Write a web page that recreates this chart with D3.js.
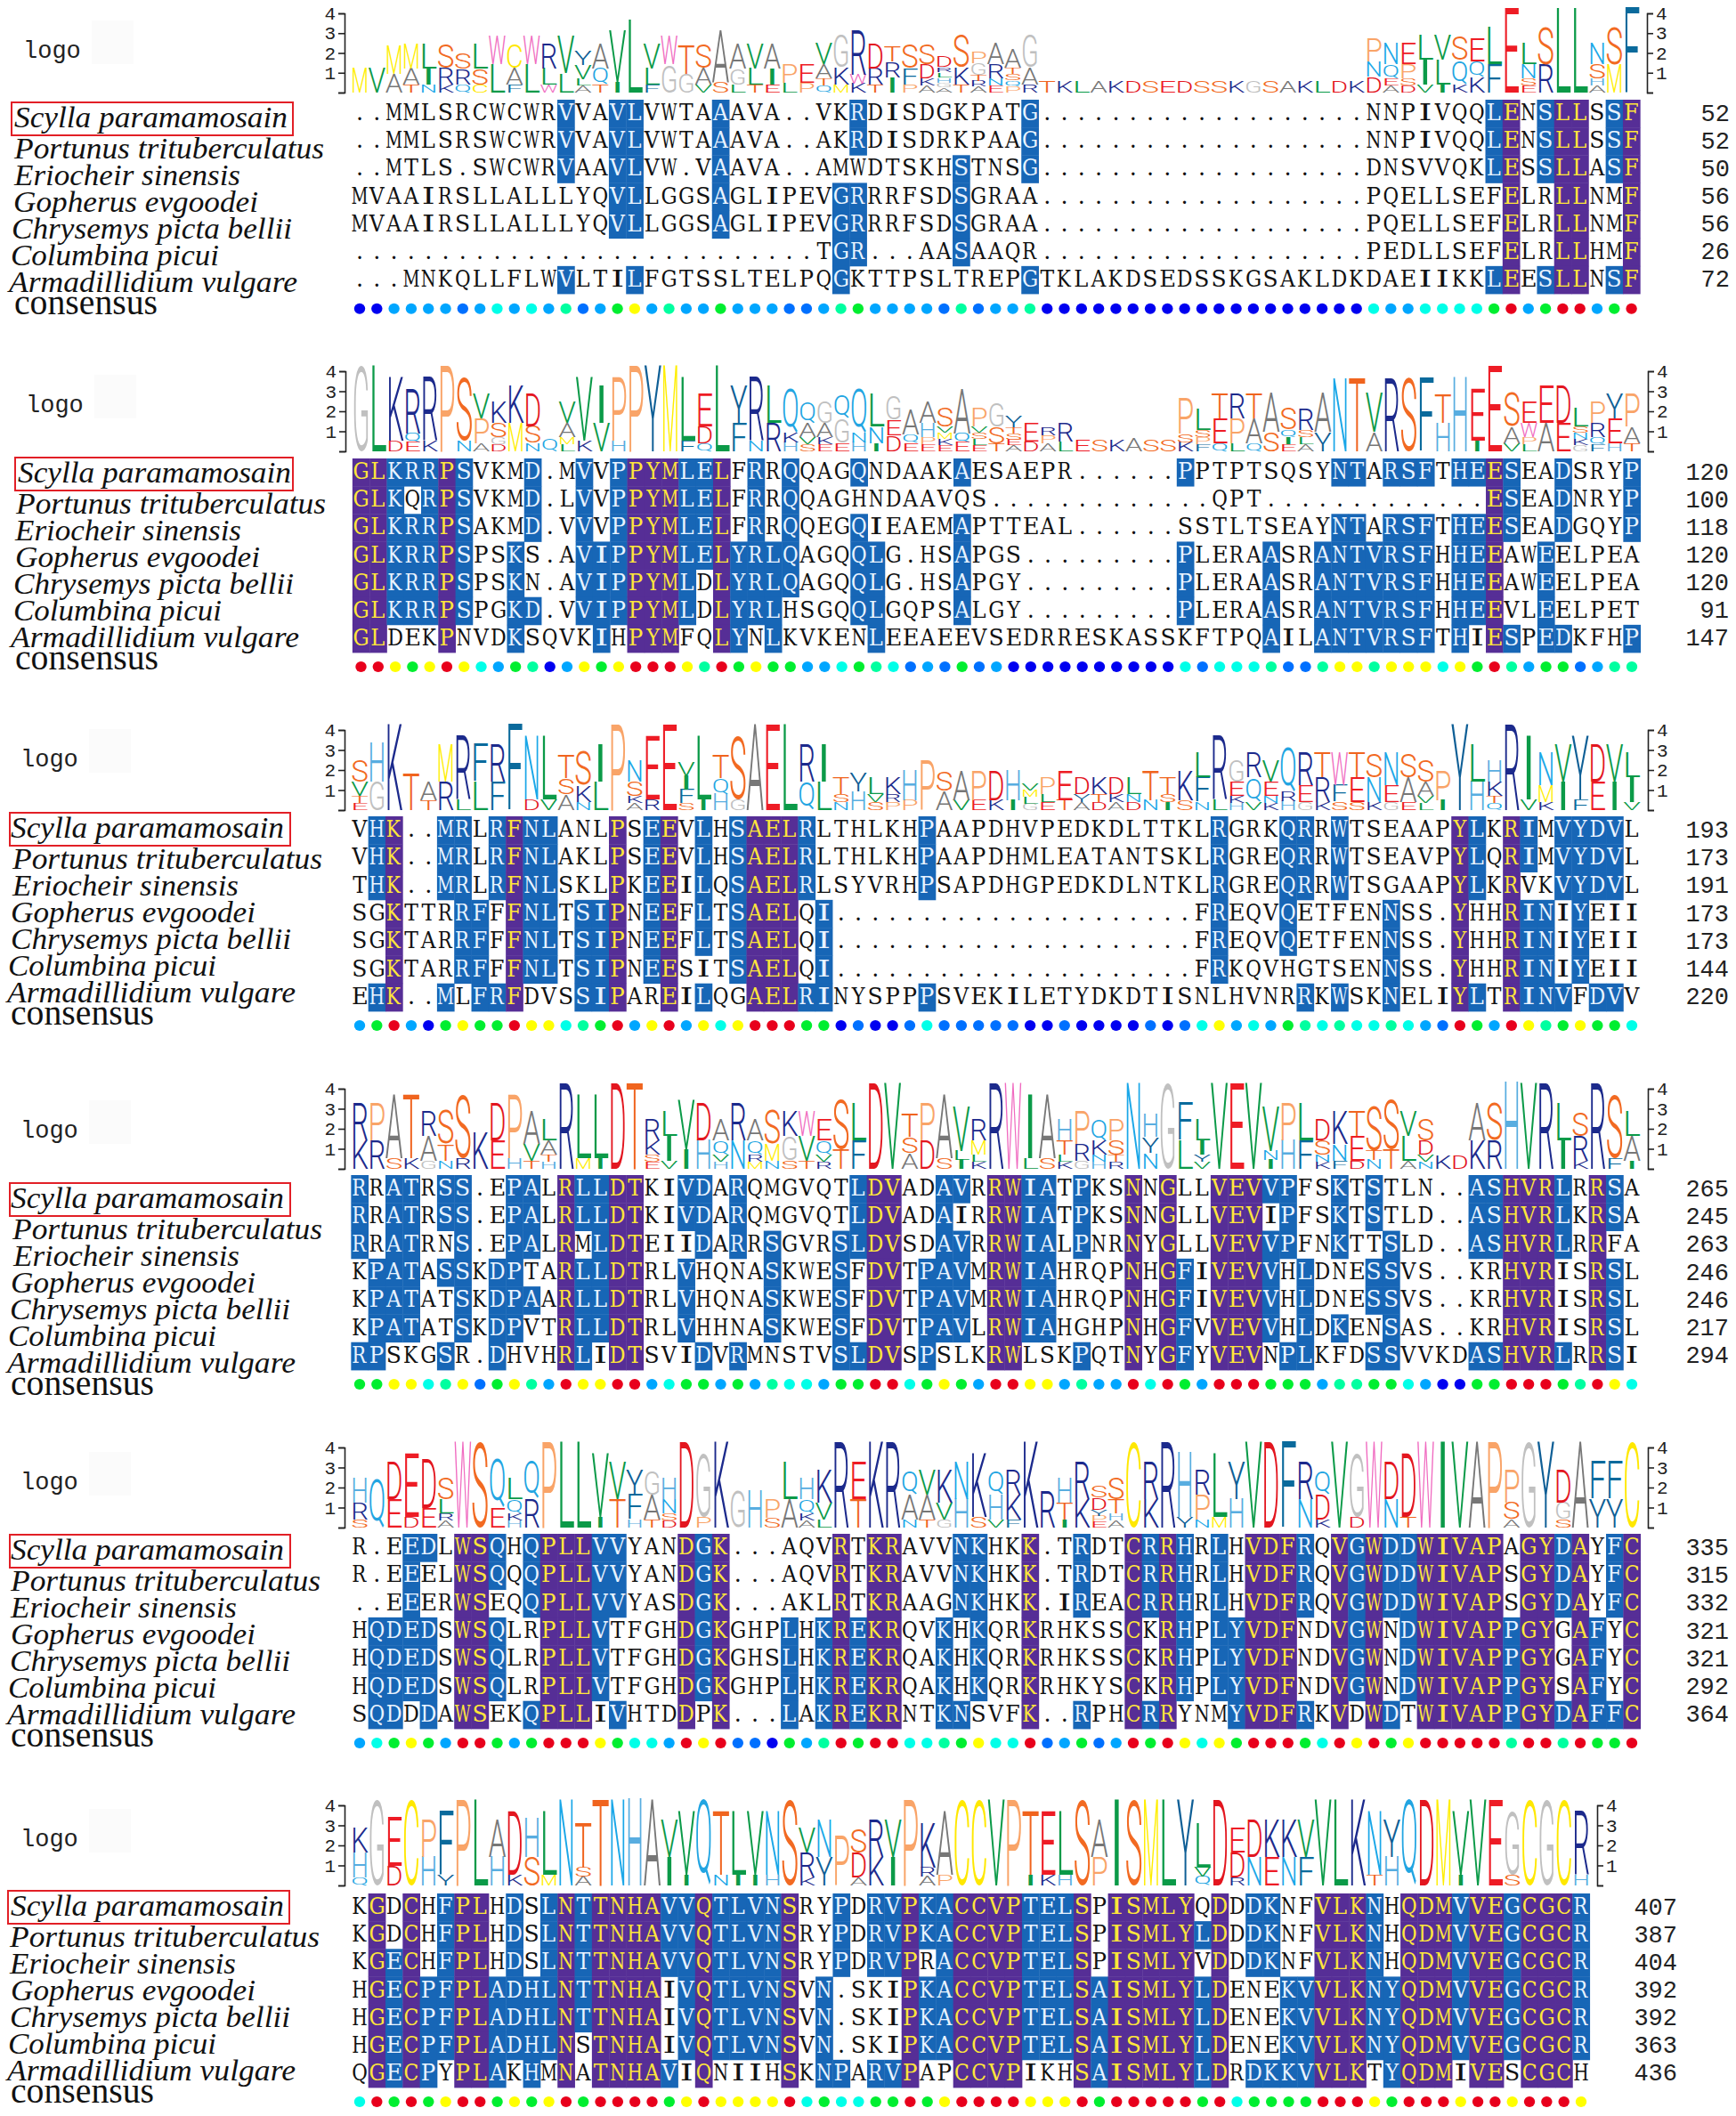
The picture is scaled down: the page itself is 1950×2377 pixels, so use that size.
<!DOCTYPE html>
<html><head><meta charset="utf-8">
<script src="https://cdn.jsdelivr.net/npm/d3@7"></script>
<style>html,body{margin:0;padding:0;background:#fff}svg{display:block}</style>
</head><body><svg id="c" width="1950" height="2377"></svg>
<script>
const dots = n => ".".repeat(n);
const species = ["Scylla paramamosain","Portunus trituberculatus","Eriocheir sinensis","Gopherus evgoodei","Chrysemys picta bellii","Columbina picui","Armadillidium vulgare"];

const block1Seqs = [
  "..MMLSRCWCWRVVAVLVWTAAAVA..VKRDISDGKPATG"+dots(19)+"NNPIVQQLENSLLSSF",
  "..MMLSRSWCWRVVAVLVWTAAAVA..AKRDISDRKPAAG"+dots(19)+"NNPIVQQLENSLLSSF",
  "..MTLS.SWCWRVAAVLVW.VAAVA..AMWDTSKHSTNSG"+dots(19)+"DNSVVQKLESSLLASF",
  "MVAAIRSLLALLLYQVLLGGSAGLIPEVGRRRFSDSGRAA"+dots(19)+"PQELLSEFELRLLNMF",
  "MVAAIRSLLALLLYQVLLGGSAGLIPEVGRRRFSDSGRAA"+dots(19)+"PQELLSEFELRLLNMF",
  dots(27)+"TGR...AASAAQR"+dots(19)+"PEDLLSEFELRLLHMF",
  "...MNKQLLFLWVLTILFGTSSLTELPQGKTTPSLTREPGTKLAKDSEDSSKGSAKLDKDAEIIKKLEESLLNSF"];
const block2Seqs = [
  "GLKRRPSVKMD.MVVPPYMLELFRRQQAGQNDAAKAESAEPR"+dots(6)+"PPTPTSQSYNTARSFTHEESEADSRYP",
  "GLKQRPSVKMD.LVVPPYMLELFRRQQAGHNDAAVQS"+dots(13)+"QPT"+dots(13)+"ESEADNRYP",
  "GLKRRPSAKMD.VVVPPYMLELFRRQQEGQIEAEMAPTTEAL"+dots(6)+"SSTLTSEAYNTARSFTHEESEADGQYP",
  "GLKRRPSPSKS.AVIPPYMLELYRLQAGQQLG.HSAPGS"+dots(9)+"PLERAASRANTVRSFHHEEAWEELPEA",
  "GLKRRPSPSKN.AVIPPYMLDLYRLQAGQQLG.HSAPGY"+dots(9)+"PLERAASRANTVRSFHHEEAWEELPEA",
  "GLKRRPSPGKD.VVIPPYMLDLYRLHSGQQLGQPSALGY"+dots(9)+"PLERAASRANTVRSFHHEEVLEELPET",
  "GLDEKPNVDKSQVKIHPYMFQLYNLKVKENLEEAEEVSEDRRESKASSKFTPQAILANTVRSFTHIESPEDKFHP"];
const block3Seqs = [
  "VHK..MRLRFNLANLPSEEVLHSAELRLTHLKHPAAPDHVPEDKDLTTKLRGRKQRRWTSEAAPYLKRIMVYDVL",
  "VHK..MRLRFNLAKLPSEEVLHSAELRLTHLKHPAAPDHMLEATANTSKLRGREQRRWTSEAVPYLQRIMVYDVL",
  "THK..MRLRFNLSKLPKEEILQSAELRLSYVRHPSAPDHGPEDKDLNTKLRGREQRRWTSGAAPYLKRVKVYDVL",
  "SGKTTRRFFFNLTSIPNEEFLTSAELQI"+dots(21)+"FREQVQETFENNSS.YHHRINIYEII",
  "SGKTARRFFFNLTSIPNEEFLTSAELQI"+dots(21)+"FREQVQETFENNSS.YHHRINIYEII",
  "SGKTARRFFFNLTSIPNEESITSAELQI"+dots(21)+"FRKQVHGTSENNSS.YHHRINIYEII",
  "EHK..MLFRFDVSSIPAREILQGAELRINYSPPPSVEKILETYDKDTISNLHVNRRKWSKNELIYLTRINVFDVV"];
const block4Seqs = [
  "RRATRSS.EPALRLLDTKIVDARQMGVQTLDVADAVRRWIATPKSNNGLLVEVVPFSKTSTLN..ASHVRLRRSA",
  "RRATRSS.EPALRLLDTKIVDARQMGVQTLDVADAIRRWIATPKSNNGLLVEVIPFSKTSTLD..ASHVRLKRSA",
  "RRATRNS.EPALRMLDTEIIDARRSGVRSLDVSDAVRRWIALPNRNYGLLVEVVPFNKTTSLD..ASHVRLRRFA",
  "KPATASSKDPTARLLDTRLVHQNASKWESFDVTPAVMRWIAHRQPNHGFIVEVVHLDNESSVS..KRHVRISRSL",
  "KPATATSKDPAARLLDTRLVHQNASKWESFDVTPAVMRWIAHRQPNHGFIVEVVHLDNESSVS..KRHVRISRSL",
  "KPATATSKDPVTRLLDTRLVHHNASKWESFDVTPAVLRWIAHGHPNHGFVVEVVHLDKENSAS..KRHVRISRSL",
  "RPSKGSR.DHVHRLIDTSVIDVRMNSTVSLDVSPSLKRWLSKPQTNYGFYVEVNPLKFDSSVVKDASHVRLRRSI"];
const block5Seqs = [
  "R.EEDLWSQHQPLLVVYANDGK...AQVRTKRAVVNKHKK.TRDTCRRHRLHVDFRQVGWDDWIVAPAGYDAYFC",
  "R.EEELWSQQQPLLVVYANDGK...AQVRTKRAVVNKHKK.TRDTCRRHRLHVDFRQVGWDDWIVAPSGYDAYFC",
  "..EEERWSEQQPLLVVYASDGK...AKLRTKRAAGNKHKK.IREACRRHRLHVDFRQVGWDDWIVAPSGYDAYFC",
  "HQDEDSWSQLRPLLVTFGHDGKGHPLHKREKRQVKHKQRKRHKSSCKRHPLYVDFNDVGWNDWIVAPPGYGAFYC",
  "HQDEDSWSQLRPLLVTFGHDGKGHSLHKREKRQAKHKQRKRHKSSCKRHPLYVDFNDVGWNDWIVAPPGYGAFYC",
  "HQDEDSWSQLRPLLVTFGHDGKGHPLHKREKRQAKHKQRKRHKYSCKRHPLYVDFNDVGWNDWIVAPPGYSAFYC",
  "SQDDDAWSEKQPLLIVHTDDPK...LAKREKRNTKNSVFK..RPHCRRYNMYVDFRKVDWDTWIVAPPGYDAFFC"];
const block6Seqs = [
  "KGDCHFPLHDSLNTTNHAVVQTLVNSRYPDRVPKACCVPTELSPISMLYQDDDKNFVLKNHQDMVVEGCGCR",
  "KGDCHFPLHDSLNTTNHAVVQTLVNSRYPDRVPKACCVPTELSPISMLYLDDDKNFVLKNHQDMVVEGCGCR",
  "KGECHFPLHDSLNTTNHAVVQTLVNSRYPDRVPRACCVPTELSPISMLYVDDDKNFVLKNHQDMVVEGCGCR",
  "HGECPFPLADHLNTTNHAIVQTLVNSVN.SKIPKACCVPTELSAISMLYLDENEKVVLKNYQDMVVEGCGCR",
  "HGECPFPLADHLNTTNHAIVQTLVNSVN.SKIPKACCVPTELSAISMLYLDENEKVVLKNYQDMVVEGCGCR",
  "HGECPFPLADHLNSTNHAIVQTLVNSVN.SKIPKACCVPTELSAISMLYLDENEKVVLKNYQDMVVEGCGCR",
  "QGECPYPLAKHMNATNHAVIQNIIHSKNPARVPAPCCVPIKHSAISMLYLDRDKKVVLKTYQDMIVESCGCH"];

const block1Levels = "NNBBBBDBCBCBSDBG"+"YBSBBGBBBDDBSGBBBBDSDBBSNNNN"+"NNNNNNNNNNNNNNN"+"CBBCCCCGRBGRRBGR";
const block2Levels = "RRYGYRYCBGSNBYGYRRRYSRGYGGBBCGSCDBDGDB"+"NNNNNNNNNN"+"CDCCCSDDSYYSYYYCYGRSBGGDBSS";
const block3Levels = "BGRBNGYGGRYYCSGRBYRBYCYRRRGGNDNNDCDDDDD"+"NNDNNNNDNDCYBCBGSCSCCSCBDRGBRYSGYGGC";
const block4Levels = "GGYYCSYDGYSBRYYRRBCGGBGBSCCBGGRRCGYGBRR"+"YYBSBBRCRGBRRRGGGBSSGGCBNNGGRRRGSRYC";
const block5Levels = "BCGYGBRRGBGRRRYGCCBRYRDDNGBSRGRRCCSGYC"+"CRDBGDBRGRYCYGRRRGCRYRGYRRRRRSRRSRGGR";
const block6Levels = "CRGRGYRRGYGYRGRRRRGYRYYYYRCGCCGGRGYRRRR"+"YYYRGRRRRRGRCGGGGRRRYGRRRYRRYRRRY";

const block1Ends = [52,52,50,56,56,26,72];
const block2Ends = [120,100,118,120,120,91,147];
const block3Ends = [193,173,191,173,173,144,220];
const block4Ends = [265,245,263,246,246,217,294];
const block5Ends = [335,315,332,321,321,292,364];
const block6Ends = [407,387,404,392,392,363,436];

const axisTicks = [0,1,2,3,4];

// layout, separate from the values
const layout = [
 {seq:block1Seqs,lev:block1Levels,end:block1Ends,x0:404,x1:1832.6,top:112,bot:330,dot:346.7,y0:104,y4:15,axL:387,axR:1850,num:1943,dy:0,box:[13,329],logo:[26,57],lx:[16,16,16,15,13,12,10,16]},
 {seq:block2Seqs,lev:block2Levels,end:block2Ends,x0:405.5,x1:1833,top:515,bot:733,dot:749,y0:507,y4:417,axL:388,axR:1851,num:1942,dy:399,box:[17,329],logo:[29,455],lx:[20,18,17,17,15,15,12,17]},
 {seq:block3Seqs,lev:block3Levels,end:block3Ends,x0:404,x1:1833,top:917,bot:1136,dot:1152,y0:910,y4:820,axL:387,axR:1851,num:1942,dy:798,box:[11,326],logo:[23,853],lx:[12,14,14,12,12,9,8,12]},
 {seq:block4Seqs,lev:block4Levels,end:block4Ends,x0:404,x1:1833,top:1320,bot:1539,dot:1555,y0:1313,y4:1223,axL:387,axR:1851,num:1942,dy:1214,box:[11,326],logo:[23,1270],lx:[12,14,15,12,11,9,8,12]},
 {seq:block5Seqs,lev:block5Levels,end:block5Ends,x0:404,x1:1833,top:1723,bot:1942,dot:1958,y0:1716,y4:1626,axL:387,axR:1851,num:1942,dy:1609,box:[11,326],logo:[23,1665],lx:[12,12,12,12,11,9,8,12]},
 {seq:block6Seqs,lev:block6Levels,end:block6Ends,x0:404,x1:1776,top:2127,bot:2345,dot:2361,y0:2118,y4:2028,axL:387,axR:1794,num:1884,dy:2009,box:[9,325],logo:[23,2066],lx:[12,11,11,12,11,9,8,12]}
];
const labelBase = [143,178,208,238,268,298,328];
const labelWidth = [307,348,254,275,315,234,324];
const cellInkWidth = {I:11,M:17.5,W:18,A:17.5,V:17.5,S:13.5,L:14.5,F:14.5,P:14.5,C:14.5};

const logoColor = d3.scaleOrdinal(
  ["M","V","A","T","N","K","R","Q","C","S","L","F","W","Y","P","E","D","G","H","I"],
  ["#ffee00","#0b9a48","#777777","#f0641e","#1aa7e8","#1c2a8c","#1c2a8c","#22a5e2","#ffe800","#f26a22","#0b9a48","#0a6a9c","#f06ac0","#0f5f96","#f9a468","#ee1c25","#e3161f","#c0c0c0","#58ade0","#0b9a48"]);
const dotColor = d3.scaleOrdinal(
  ["R","Y","G","S","C","B","D","N"],
  ["#e8001c","#ffff00","#00ee30","#00ffa0","#00ffe8","#00a6ff","#0070ff","#0000f0"]);

const mc = document.createElement("canvas").getContext("2d");
const cache = {};
function metric(font,ch){
  const key=font+ch;
  if(!cache[key]){mc.font=font;const m=mc.measureText(ch);
    cache[key]={adv:m.width,asc:m.actualBoundingBoxAscent,desc:m.actualBoundingBoxDescent,left:m.actualBoundingBoxLeft,right:m.actualBoundingBoxRight};}
  return cache[key];
}
const LOGOFONT='300 100px Roboto', CELLFONT='100px "DejaVu Serif"';
const capH = metric(CELLFONT,"H").asc;
const CELL_CAP = 18.5;

const svg = d3.select("#c");
const LOG20 = Math.log2(20);

layout.forEach((b)=>{
  const g = svg.append("g");
  const n = b.seq[0].length;
  const x = d3.scaleLinear().domain([0,n-1]).range([b.x0,b.x1]);
  const pitch = x(1)-x(0);
  const yRow = d3.scaleBand().domain(d3.range(7)).range([b.top,b.bot]);
  const yLogo = d3.scaleLinear().domain([0,4]).range([b.y0,b.y4]);

  const cols = d3.range(n).map(i=>{
    const letters = b.seq.map(s=>s[i]);
    const counts = d3.rollup(letters.filter(c=>c!=="."),v=>v.length,c=>c);
    return {i,letters,counts};
  });

  // shading
  const cells = [];
  cols.forEach(c=>c.letters.forEach((ch,r)=>{
    const k = ch==="."?0:c.counts.get(ch);
    cells.push({i:c.i,r,ch,cls:k===7?"p":k>=4?"b":"n"});
  }));
  g.append("g").selectAll("rect").data(cells.filter(d=>d.cls!=="n")).join("rect")
    .attr("x",d=>x(d.i)-pitch/2).attr("y",d=>yRow(d.r))
    .attr("width",pitch+0.4).attr("height",yRow.bandwidth()+0.4)
    .attr("fill",d=>d.cls==="p"?"#562e96":"#1766b6");
  g.append("g").selectAll("text").data(cells).join("text")
    .attr("font-family",'"DejaVu Serif"').attr("font-size",100)
    .attr("transform",d=>{
      const m=metric(CELLFONT,d.ch), base=yRow(d.r)+yRow.bandwidth()/2+7.5;
      const sy=CELL_CAP/capH;
      const sx=d.ch==="."?sy:(cellInkWidth[d.ch]||15.5)/(m.left+m.right);
      return `translate(${x(d.i)},${base}) scale(${sx},${sy}) translate(${(m.left-m.right)/2},0)`;
    })
    .attr("fill",d=>d.cls==="p"?"#ffe63a":d.cls==="b"?"#e8f3ff":"#111")
    .text(d=>d.ch);

  // logo stacks
  const lg = g.append("g");
  cols.forEach(c=>{
    const tot = d3.sum(c.counts.values());
    if(!tot) return;
    let H=0; c.counts.forEach(v=>{const f=v/tot;H-=f*Math.log2(f);});
    const info=(LOG20-H)*tot/7;
    const stack=[...c.counts.entries()].sort((p,q)=>d3.ascending(p[1],q[1])||d3.ascending(p[0],q[0]));
    let acc=0;
    stack.forEach(([ch,v])=>{
      const h=info*v/tot, m=metric(LOGOFONT,ch);
      const yb=yLogo(acc), yt=yLogo(acc+h); acc+=h;
      const sx=(pitch*1.02)/m.adv, sy=(yb-yt)/(m.asc+m.desc);
      lg.append("text").attr("font-family","Roboto").attr("font-weight",300).attr("font-size",100)
        .attr("transform",`translate(${x(c.i)-pitch*0.51},${yb}) scale(${sx},${sy}) translate(0,${-m.desc})`)
        .attr("fill",logoColor(ch)).text(ch);
    });
  });

  // axes
  const ax = (sel,axis)=>{
    sel.call(axis.tickValues(axisTicks).tickSize(7).tickPadding(3).tickFormat(d=>d===0?"":d));
    sel.selectAll("text").attr("font-family",'"Liberation Mono"').attr("font-size",21).attr("fill","#222");
    sel.selectAll("path,line").attr("stroke","#222").attr("stroke-width",1.6);
    sel.select("path").attr("fill","none");
  };
  g.append("g").attr("transform",`translate(${b.axL},0)`).call(s=>ax(s,d3.axisLeft(yLogo)));
  g.append("g").attr("transform",`translate(${b.axR},0)`).call(s=>ax(s,d3.axisRight(yLogo)));

  // consensus dots
  g.append("g").selectAll("ellipse").data(Array.from(b.lev)).join("ellipse")
    .attr("cx",(d,i)=>x(i)).attr("cy",b.dot).attr("rx",6.2).attr("ry",6)
    .attr("fill",d=>dotColor(d));

  // right numbers
  g.append("g").selectAll("text").data(b.end).join("text")
    .attr("x",b.num).attr("y",(d,r)=>yRow(r)+yRow.bandwidth()/2+8)
    .attr("text-anchor","end").attr("font-family",'"Liberation Mono"').attr("font-size",27).attr("fill","#222")
    .text(d=>d);

  // left labels
  g.append("g").selectAll("text").data(species).join("text")
    .attr("x",(d,r)=>b.lx[r]).attr("y",(d,r)=>labelBase[r]+b.dy)
    .attr("font-family",'"Liberation Serif"').attr("font-style","italic").attr("font-size",34).attr("fill","#111")
    .attr("textLength",(d,r)=>labelWidth[r]).attr("lengthAdjust","spacingAndGlyphs")
    .text(d=>d);
  g.append("text").attr("x",b.lx[7]).attr("y",353+b.dy)
    .attr("font-family",'"Liberation Serif"').attr("font-size",39).attr("fill","#111")
    .attr("textLength",161).attr("lengthAdjust","spacingAndGlyphs").text("consensus");
  g.append("rect").attr("x",b.box[0]).attr("y",115+b.dy).attr("width",b.box[1]-b.box[0]).attr("height",37)
    .attr("fill","none").attr("stroke","#e21f26").attr("stroke-width",2);

  // logo caption
  g.append("rect").attr("x",b.logo[0]+77).attr("y",b.logo[1]-34).attr("width",47).attr("height",49).attr("fill","#fbfbfb");
  g.append("text").attr("x",b.logo[0]).attr("y",b.logo[1]+8)
    .attr("font-family",'"Liberation Mono"').attr("font-size",27).attr("fill","#222").text("logo");
});
</script></body></html>
